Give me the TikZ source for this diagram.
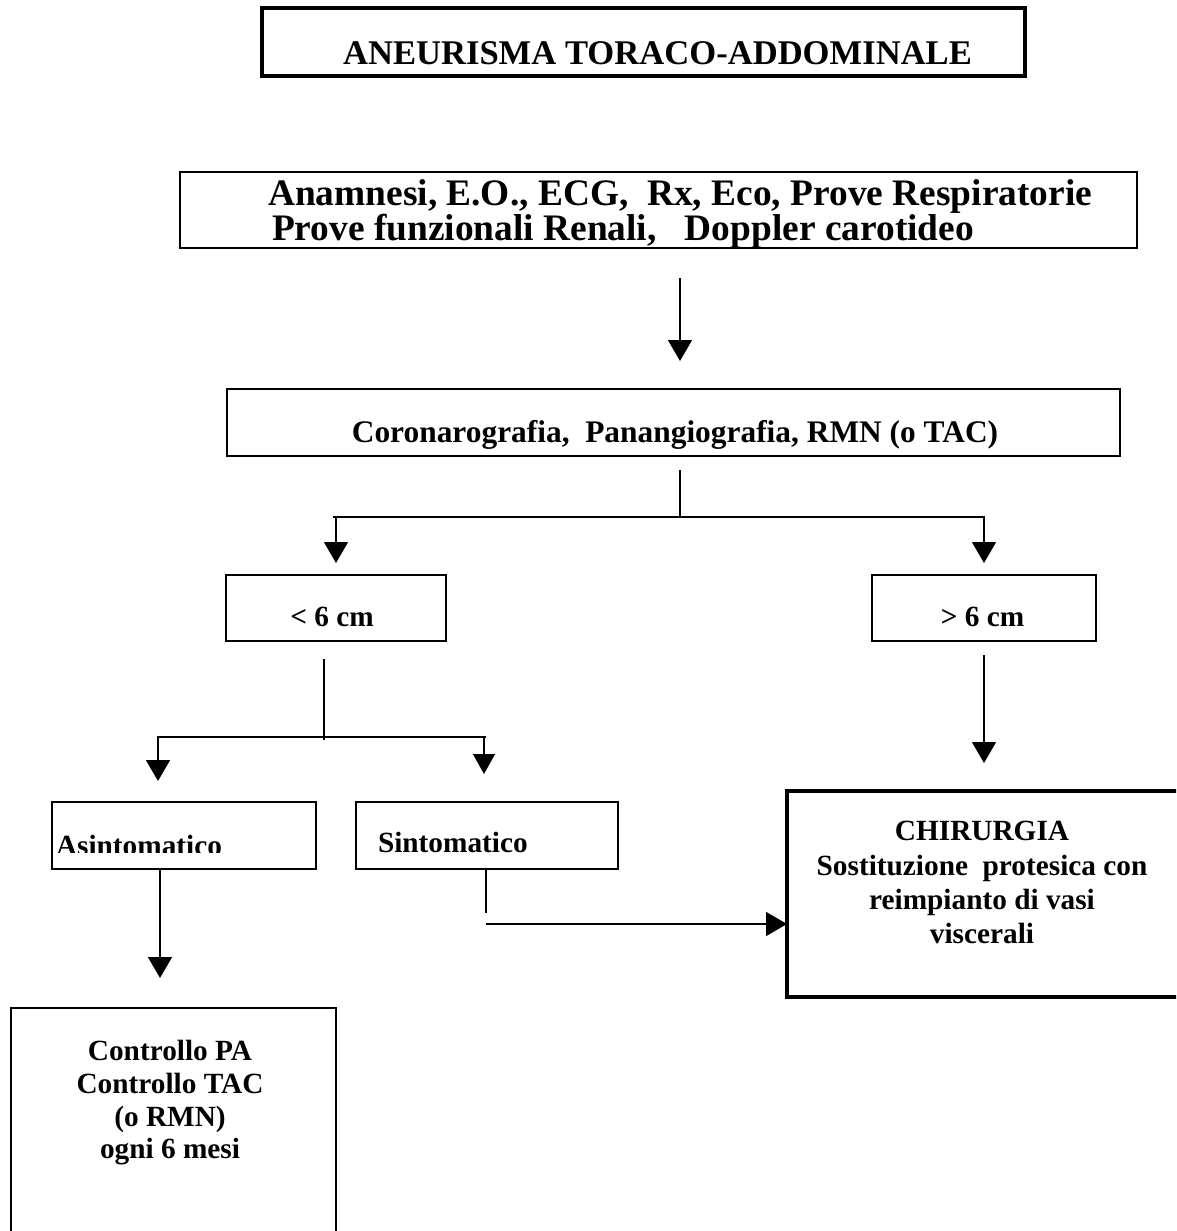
\documentclass[tikz,border=0pt]{standalone}
\usepackage{fontspec}
\setmainfont{Liberation Serif}
\usetikzlibrary{arrows.meta,calc}
\begin{document}
\begin{tikzpicture}[x=1pt,y=-1pt,
  box/.style={draw, line width=1.6pt, inner sep=0pt, outer sep=0pt},
  thickbox/.style={box, line width=3.2pt},
  txt/.style={inner sep=0pt, outer sep=0pt, anchor=base},
  fA/.style={font=\fontsize{34.6}{38}\selectfont\bfseries},
  fB/.style={font=\fontsize{37.4}{40}\selectfont\bfseries},
  fC/.style={font=\fontsize{31.4}{34}\selectfont\bfseries},
  fD/.style={font=\fontsize{29.3}{33}\selectfont\bfseries},
  conn/.style={line width=1.6pt},
  arr/.style={conn, -{Triangle[width=24pt,length=21pt]}},
  arrs/.style={conn, -{Triangle[width=22pt,length=20pt]}}]
\useasboundingbox (0,0) rectangle (1176,1231);
\clip (0,0) rectangle (1176,1231);
% boxes
\node[thickbox, minimum width=763pt, minimum height=68pt] (title) at (643.5,42) {};
\node[box, minimum width=957pt, minimum height=76pt] (b2) at (658.5,210) {};
\node[box, minimum width=893pt, minimum height=67pt] (b3) at (673.5,422.5) {};
\node[box, minimum width=220pt, minimum height=66pt] (lt) at (336,608) {};
\node[box, minimum width=224pt, minimum height=66pt] (gt) at (984,608) {};
\node[box, minimum width=264pt, minimum height=67pt] (asin) at (184,835.5) {};
\node[box, minimum width=262pt, minimum height=67pt] (sint) at (487,835.5) {};
\node[box, minimum width=325pt, minimum height=262pt] (ctrl) at (173.5,1139) {};
\node[thickbox, minimum width=413pt, minimum height=206pt] (chir) at (993.5,894) {};
% texts
\node[txt, fA] (tTitle) at (657.5,65) {ANEURISMA TORACO-ADDOMINALE};
\node[txt, fB, anchor=base west] (tB2a) at (268,205) {Anamnesi, E.O., ECG,\ \ Rx, Eco, Prove Respiratorie};
\node[txt, fB, anchor=base west] (tB2b) at (272,240) {Prove funzionali Renali,\ \ \ Doppler\ carotideo};
\node[txt, fC] (tB3) at (675,442) {Coronarografia,\ \ Panangiografia, RMN (o TAC)};
\node[txt, fD] (tLt) at (332,626) {< 6 cm};
\node[txt, fD] (tGt) at (982.5,626) {> 6 cm};
\begin{scope}
  \clip (40,790) rectangle (330,852);
  \node[txt, fD, anchor=base west] (tAsin) at (56,855) {Asintomatico};
\end{scope}
\node[txt, fD, anchor=base west] (tSint) at (378,852) {Sintomatico};
\node[txt, fD] (tC1) at (170,1060) {Controllo PA};
\node[txt, fD] (tC2) at (170,1093) {Controllo TAC};
\node[txt, fD] (tC3) at (170,1126) {(o RMN)};
\node[txt, fD] (tC4) at (170,1158) {ogni 6 mesi};
\node[txt, fD] (tH1) at (982,840) {CHIRURGIA};
\node[txt, fD] (tH2) at (982,875) {Sostituzione\ \ protesica con};
\node[txt, fD] (tH3) at (982,909) {reimpianto di vasi};
\node[txt, fD] (tH4) at (982,943) {viscerali};
% junction coordinates
\coordinate (j1) at (680,517);
\coordinate (j2) at (324,737);
% connectors
\draw[arr] ($(b2.south)+(21.5,30)$) -- ($(b3.north)+(6.5,-28)$);
\draw[conn] ($(b3.south)+(6.5,14)$) -- (j1);
\draw[conn] (j1 -| 333,0) -- (j1 -| 985,0);
\draw[arr] (j1 -| lt.north) -- ($(lt.north)+(0,-12)$);
\draw[arr] (j1 -| gt.north) -- ($(gt.north)+(0,-12)$);
\draw[conn] ($(lt.south)+(-12,18)$) -- ($(j2)+(0,3)$);
\draw[conn] (j2 -| 157,0) -- (j2 -| 486,0);
\draw[arr] (j2 -| 158,0) -- ($(asin.north)+(-26,-21)$);
\draw[arrs] (j2 -| 484,0) -- ($(sint.north)+(-3,-28)$);
\draw[arr] ($(gt.south)+(0,14)$) -- ($(chir.north)+(-9.5,-28)$);
\draw[arr] ($(asin.south)+(-24,1)$) -- ($(ctrl.north)+(-13.5,-30)$);
\draw[conn] ($(sint.south)+(-1,1)$) -- ($(sint.south)+(-1,44)$);
\draw[arr] ($(sint.south)+(-1,55)$) -- (chir.west |- 0,924);
\end{tikzpicture}
\end{document}
